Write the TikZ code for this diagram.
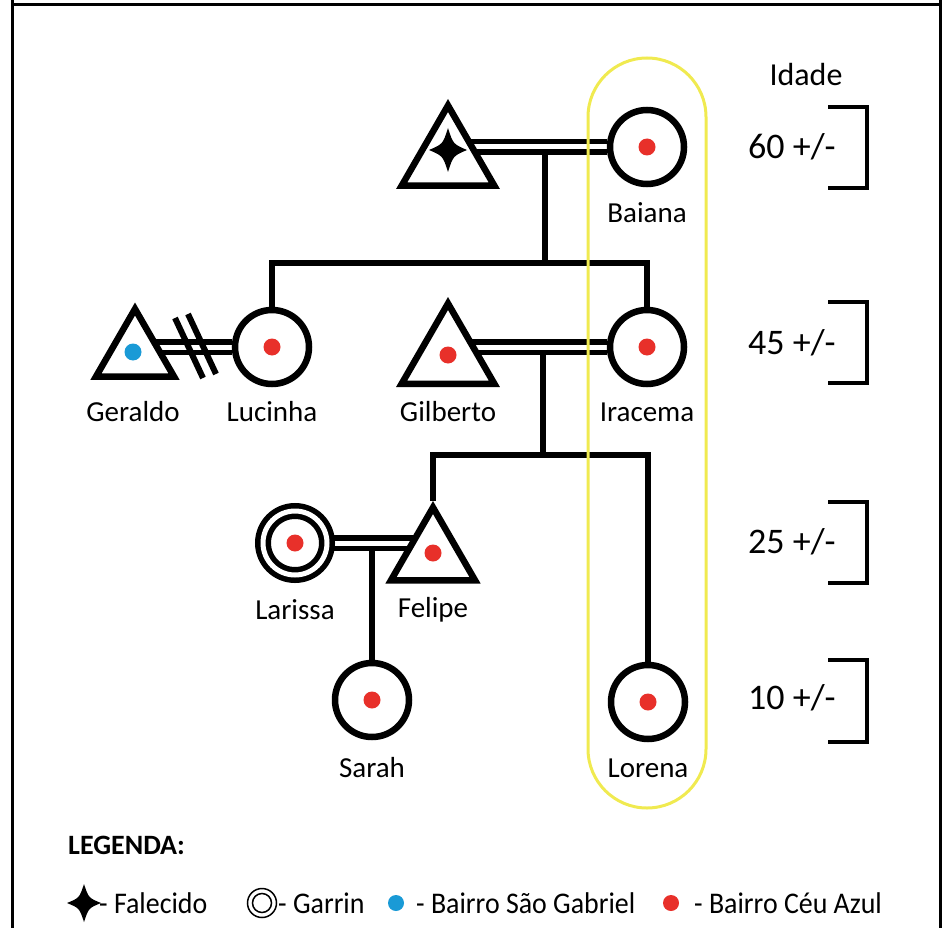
\documentclass[tikz,border=0pt]{standalone}
\usepackage{fontspec}
\usepackage{graphicx}
\setmainfont{Carlito}
\usetikzlibrary{shapes.geometric,backgrounds,calc}

\definecolor{dotred}{RGB}{232,48,42}
\definecolor{dotblue}{RGB}{26,154,214}
\definecolor{hilite}{RGB}{240,234,80}

\newcommand\legendtxt[1]{\scalebox{0.93}[1]{#1}}

\tikzset{
  fem/.style={circle,draw,line width=6.5pt,fill=white,minimum size=74pt,inner sep=0pt},
  garrin/.style={circle,draw,double=white,double distance=5pt,line width=5.5pt,
                 fill=white,minimum size=64pt,inner sep=0pt},
  masc/.style={regular polygon,regular polygon sides=3,draw,line width=6.5pt,
               line join=miter,fill=white,inner sep=0pt,minimum size=#1},
  kin/.style={line width=6pt,line join=miter},
  couple/.style={line width=5.5pt,double=white,double distance=5pt},
  split/.style={line width=6pt},
  agebracket/.style={line width=3.5pt,line join=miter},
  namelabel/.style={font=\fontsize{29}{34}\selectfont,inner sep=0pt},
  agelabel/.style={font=\fontsize{36}{42}\selectfont,inner sep=0pt,anchor=west},
  legendtext/.style={font=\fontsize{30}{34}\selectfont,inner sep=0pt,anchor=west},
  fourstar/.pic={\fill (0,1) .. controls (0.27,0.27) .. (1,0)
                      .. controls (0.27,-0.27) .. (0,-1)
                      .. controls (-0.27,-0.27) .. (-1,0)
                      .. controls (-0.27,0.27) .. cycle;}
}

\begin{document}
\begin{tikzpicture}[x=1pt,y=-1pt]
\useasboundingbox (0,0) rectangle (942,928);

% frame
\draw[line width=3pt] (12,0) -- (12,928);
\draw[line width=3pt] (12,5) -- (940,5);
\draw[line width=3pt] (940,0) -- (940,928);

% generation 1
\node[masc=107pt] (husband) at (448,159) {};
\node[fem] (baiana) at (647,147) {};
% generation 2
\node[masc=90pt] (geraldo) at (135,354) {};
\node[fem] (lucinha) at (272,347) {};
\node[masc=107pt] (gilberto) at (448,357) {};
\node[fem] (iracema) at (647,347) {};
% generation 3
\node[garrin] (larissa) at (295,543) {};
\node[masc=97pt] (felipe) at (433,556) {};
% generation 4
\node[fem] (sarah) at (372,700) {};
\node[fem] (lorena) at (648,702) {};

% symbols inside the figures
\pic[xscale=19,yscale=22] at ($(husband.center)+(0,-9)$) {fourstar};
\fill[dotblue] ($(geraldo.center)+(-2,-2)$) circle (8.5pt);
\fill[dotred] (baiana) circle (8.5pt);
\fill[dotred] (lucinha) circle (8.5pt);
\fill[dotred] ($(gilberto.center)+(0,-2)$) circle (8.5pt);
\fill[dotred] (iracema) circle (8.5pt);
\fill[dotred] (larissa) circle (8.5pt);
\fill[dotred] ($(felipe.center)+(0,-3)$) circle (8.5pt);
\fill[dotred] (sarah) circle (8.5pt);
\fill[dotred] (lorena) circle (8.5pt);

% kinship lines
\coordinate (c1) at (545,147);
\coordinate (b1) at (545,263);
\coordinate (c2) at (543,347);
\coordinate (b2) at (543,455);
\coordinate (c3) at (sarah |- larissa);
\begin{scope}[on background layer]
  \draw[kin] (c1) -- (b1);
  \draw[kin] (lucinha) |- (b1) -| (iracema);
  \draw[kin] (c2) -- (b2);
  \draw[kin] (felipe) |- (b2) -| (lorena);
  \draw[kin] (c3) -- (sarah);
  \draw[couple] (husband |- baiana) -- (baiana);
  \draw[couple] (geraldo |- lucinha) -- (lucinha);
  \draw[couple] (gilberto |- iracema) -- (iracema);
  \draw[couple] (larissa) -- (felipe |- larissa);
\end{scope}

% separation marks
\coordinate (sep) at (195,346);
\draw[split] ($(sep)+(-20,-28)$) -- ($(sep)+(8,32)$);
\draw[split] ($(sep)+(-7,-32)$) -- ($(sep)+(21,28)$);

% names
\node[namelabel] (nbaiana) at (647,213) {Baiana};
\node[namelabel] (ngeraldo) at (133,412) {Geraldo};
\node[namelabel] (nlucinha) at (272,412) {Lucinha};
\node[namelabel] (ngilberto) at (448,412) {Gilberto};
\node[namelabel] (niracema) at (647,412) {Iracema};
\node[namelabel] (nlarissa) at (295,610) {Larissa};
\node[namelabel] (nfelipe) at (433,610) {Felipe};
\node[namelabel] (nsarah) at (372,768) {Sarah};
\node[namelabel] (nlorena) at (648,768) {Lorena};

% highlighted line of descent
\draw[hilite,line width=3pt,rounded corners=59pt] (588,58) rectangle (706,808);

% age scale
\node[font=\fontsize{32}{38}\selectfont,inner sep=0pt] (idade) at (806,75) {Idade};
\node[agelabel] (a60) at (748,147) {60 +/-};
\node[agelabel] (a45) at (748,343) {45 +/-};
\node[agelabel] (a25) at (748,542) {25 +/-};
\node[agelabel] (a10) at (748,698) {10 +/-};
\draw[agebracket] (828,107) -| (867,188) -- (828,188);
\draw[agebracket] (828,302) -| (867,383) -- (828,383);
\draw[agebracket] (828,502) -| (867,583) -- (828,583);
\draw[agebracket] (828,660) -| (867,742) -- (828,742);

% legend
\node[font=\bfseries\fontsize{28}{32}\selectfont,inner sep=0pt,anchor=west] (legenda) at (68,845) {LEGENDA:};
\pic[xscale=17,yscale=19] at (84,903) {fourstar};
\node[legendtext] (lfalecido) at (99,903) {\legendtxt{- Falecido}};
\draw[line width=1.5pt] (262,903) circle (14.5pt) circle (9.5pt);
\node[legendtext] (lgarrin) at (278,903) {\legendtxt{- Garrin}};
\fill[dotblue] (396,903) circle (8pt);
\node[legendtext] (lsaogabriel) at (416,903) {\legendtxt{- Bairro São Gabriel}};
\fill[dotred] (671,903) circle (8pt);
\node[legendtext] (lceuazul) at (694,903) {\legendtxt{- Bairro Céu Azul}};
\end{tikzpicture}
\end{document}
